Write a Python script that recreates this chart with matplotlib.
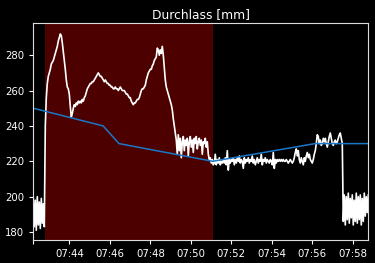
import matplotlib
matplotlib.use("Agg")
import matplotlib.pyplot as plt
import matplotlib.dates as mdates
import pandas as pd

title = "Durchlass [mm]"
start_time = "2024-01-01 07:42:13"
end_time = "2024-01-01 07:58:46"

durchlass = [
    199, 183, 198, 181, 200, 184, 197, 182, 199, 185, 196, 183,
    240, 256, 264, 268, 270, 272, 275, 276, 277, 279, 281, 283, 285, 288, 290, 292, 291, 287,
    282, 277, 272, 266, 262, 261, 258, 251, 245, 247, 250, 252, 251, 253, 252, 254, 253, 254,
    253, 255, 254, 256, 257, 259, 261, 262, 263, 264, 264, 265, 265, 266, 267, 268, 269, 270,
    269, 268, 268, 267, 266, 265, 266, 265, 264, 264, 263, 263, 262, 262, 261, 261, 262, 261,
    261, 260, 261, 262, 261, 260, 260, 260, 259, 258, 258, 257, 256, 256, 254, 253, 252, 253,
    253, 254, 255, 255, 256, 258, 260, 261, 261, 262, 263, 266, 268, 270, 271, 272, 272, 274,
    275, 277, 278, 279, 284, 283, 280, 283, 281, 285, 280, 273, 266, 262, 260, 258, 256, 254,
    252, 249, 244, 240, 236, 232, 224,
    235, 226, 233, 222, 231, 234, 226, 232, 229, 233, 223, 231, 234, 228, 232, 225, 233, 230,
    234, 227, 231, 233, 229, 232, 224, 231, 230, 233, 228, 231, 224, 221, 222, 219, 221, 218,
    219, 224, 218, 221, 219, 222, 218, 220, 219, 221, 219, 222, 218, 226, 215, 221, 219, 221,
    220, 222, 218, 221, 219, 222, 220, 223, 219, 221, 220, 216, 222, 219, 221, 220, 222, 219,
    221, 220, 223, 219, 221, 218, 220, 222, 219, 221, 220, 224, 218, 221, 220, 222, 219, 221,
    220, 219, 221, 220, 218, 225, 216, 221, 219, 221, 220, 221, 220, 221, 220, 221, 220, 220,
    221, 220, 219, 220, 221, 220, 219, 220, 222, 225, 227, 223, 226, 221, 219, 222, 220, 218,
    222, 220, 223, 225, 222, 224, 221, 220, 219, 221, 224, 226, 230, 235, 234, 230, 232, 229,
    230, 233, 231, 233, 230, 228, 231, 234, 236, 233, 230, 229, 231, 232, 230, 231, 233, 235,
    236, 233, 230,
    186, 201, 184, 200, 187, 202, 185, 199, 188, 201, 184, 198, 186, 202, 185, 200, 187, 201,
    184, 199, 186, 202, 189, 200, 191, 201,
]

ref_times = ["07:42:13", "07:45:40", "07:46:27", "07:51:05", "07:56:08", "07:58:46"]
ref_values = [250, 240, 230, 220, 230, 230]

span_start = "07:42:48"
span_end = "07:51:05"

y_ticks = [180, 200, 220, 240, 260, 280]

plt.style.use("dark_background")
fig = plt.figure(figsize=(3.75, 2.63), dpi=100)
ax = fig.add_axes([0.0888, 0.0875, 0.8933, 0.8237])

times = pd.date_range(start_time, end_time, periods=len(durchlass))
day = "2024-01-01 "
rt = pd.to_datetime([day + t for t in ref_times])

ax.axvspan(pd.Timestamp(day + span_start), pd.Timestamp(day + span_end),
           color="red", alpha=0.3, lw=0)
ax.plot(times, durchlass, color="white", lw=1.2)
ax.plot(rt, ref_values, color="#1a78c8", lw=1.1)

ax.set_xlim(times[0], times[-1])
ax.set_ylim(175.5, 298)
ax.set_yticks(y_ticks)
ax.xaxis.set_major_locator(mdates.MinuteLocator(byminute=range(0, 60, 2)))
ax.xaxis.set_major_formatter(mdates.DateFormatter("%H:%M"))
ax.set_xticks([times[0]], minor=True)
ax.tick_params(labelsize=7.3, length=3, width=0.8)
ax.tick_params(which="minor", length=3, width=0.8)
for s in ax.spines.values():
    s.set_linewidth(0.8)
    s.set_color("#dddddd")
ax.set_title(title, fontsize=8.8, pad=4)

fig.savefig("out.png", dpi=100, facecolor="black")
